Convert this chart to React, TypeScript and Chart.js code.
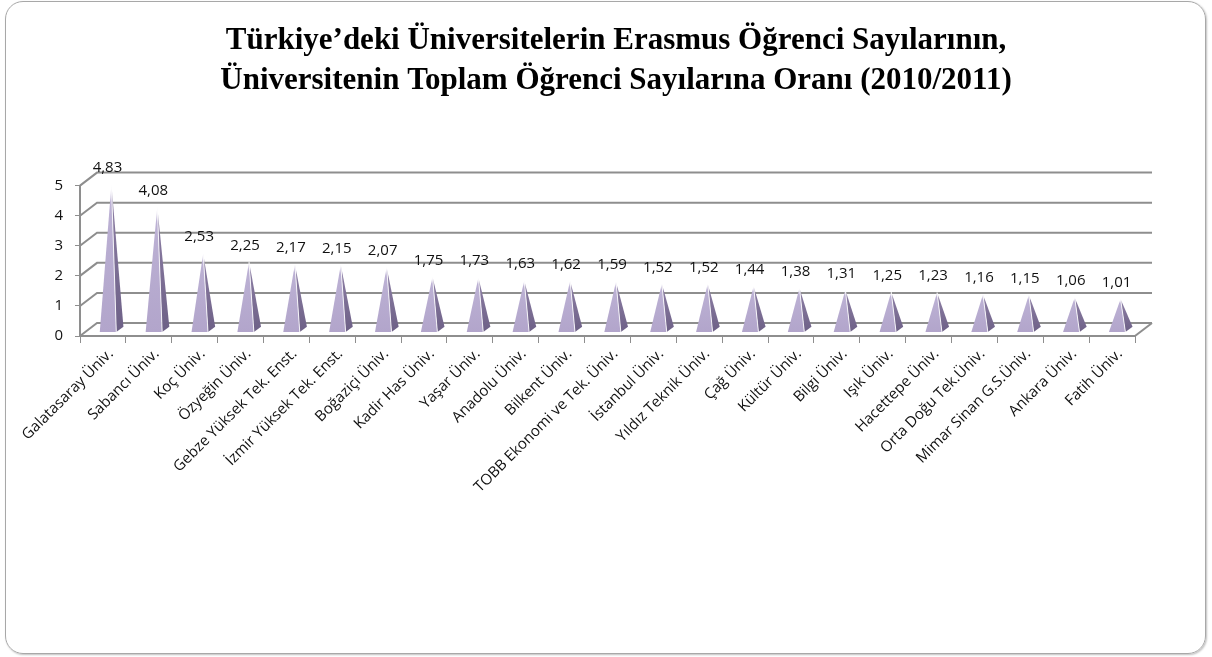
import React, { useEffect, useRef } from "react";
import { Chart, registerables } from "chart.js";

Chart.register(...registerables);

const TITLE_LINES = [
  "Türkiye’deki Üniversitelerin Erasmus Öğrenci Sayılarının,",
  "Üniversitenin Toplam Öğrenci Sayılarına Oranı (2010/2011)",
];

const CATEGORIES = [
  "Galatasaray Üniv.",
  "Sabancı Üniv.",
  "Koç Üniv.",
  "Özyeğin Üniv.",
  "Gebze Yüksek Tek. Enst.",
  "İzmir Yüksek Tek. Enst.",
  "Boğaziçi Üniv.",
  "Kadir Has Üniv.",
  "Yaşar Üniv.",
  "Anadolu Üniv.",
  "Bilkent Üniv.",
  "TOBB Ekonomi ve Tek. Üniv.",
  "İstanbul Üniv.",
  "Yıldız Teknik Üniv.",
  "Çağ Üniv.",
  "Kültür Üniv.",
  "Bilgi Üniv.",
  "Işık Üniv.",
  "Hacettepe Üniv.",
  "Orta Doğu Tek.Üniv.",
  "Mimar Sinan G.S.Üniv.",
  "Ankara Üniv.",
  "Fatih Üniv.",
];

const VALUES = [
  4.83, 4.08, 2.53, 2.25, 2.17, 2.15, 2.07, 1.75, 1.73, 1.63, 1.62, 1.59, 1.52,
  1.52, 1.44, 1.38, 1.31, 1.25, 1.23, 1.16, 1.15, 1.06, 1.01,
];

const Y_TICKS = [0, 1, 2, 3, 4, 5];

// 3D depth offset (pixels) and pyramid depth fractions
const DX = 17;
const DY = -13;
const T1 = 0.3;
const T2 = 0.72;
const GRID = "#8e8e8e";
const LABEL_FONT = '15px "Open Sans"';

const fmt = (v: number) => v.toFixed(2).replace(".", ",");

const pyramidPlugin = {
  id: "pyramid3d",
  beforeDatasetsDraw(chart: any) {
    const { ctx, chartArea, scales } = chart;
    const y = scales.y;
    ctx.save();
    ctx.strokeStyle = GRID;
    ctx.lineWidth = 2;
    for (const v of Y_TICKS) {
      const py = y.getPixelForValue(v);
      ctx.beginPath();
      ctx.moveTo(chartArea.left, py);
      ctx.lineTo(chartArea.left + DX, py + DY);
      ctx.lineTo(chartArea.right + DX, py + DY);
      ctx.stroke();
    }
    ctx.beginPath();
    ctx.moveTo(chartArea.right, chartArea.bottom);
    ctx.lineTo(chartArea.right + DX, chartArea.bottom + DY);
    ctx.stroke();
    ctx.restore();
  },
  afterDatasetsDraw(chart: any) {
    const { ctx, scales } = chart;
    const y = scales.y;
    const base = y.getPixelForValue(0);
    const meta = chart.getDatasetMeta(0);
    ctx.save();
    meta.data.forEach((bar: any, i: number) => {
      const cx = bar.x;
      const w = bar.width / 2;
      const top = bar.y;
      const fl = [cx - w + T1 * DX, base + T1 * DY];
      const fr = [cx + w + T1 * DX, base + T1 * DY];
      const br = [cx + w + T2 * DX, base + T2 * DY];
      const ap = [cx + 0.5 * DX, top + 0.5 * DY];
      // side face
      const gs = ctx.createLinearGradient(0, ap[1], 0, fr[1]);
      gs.addColorStop(0, "#e6e1ee");
      gs.addColorStop(0.15, "#8a7ca2");
      gs.addColorStop(1, "#6d6086");
      ctx.fillStyle = gs;
      ctx.beginPath();
      ctx.moveTo(ap[0], ap[1]);
      ctx.lineTo(fr[0], fr[1]);
      ctx.lineTo(br[0], br[1]);
      ctx.closePath();
      ctx.fill();
      // front face
      const gf = ctx.createLinearGradient(0, ap[1], 0, fl[1]);
      gf.addColorStop(0, "#f4f2f8");
      gf.addColorStop(0.12, "#bcb1d4");
      gf.addColorStop(1, "#b2a5cb");
      ctx.fillStyle = gf;
      ctx.beginPath();
      ctx.moveTo(ap[0], ap[1]);
      ctx.lineTo(fl[0], fl[1]);
      ctx.lineTo(fr[0], fr[1]);
      ctx.closePath();
      ctx.fill();
      // highlight edge
      ctx.strokeStyle = "rgba(255,255,255,0.85)";
      ctx.lineWidth = 1;
      ctx.beginPath();
      ctx.moveTo(ap[0], ap[1]);
      ctx.lineTo(fr[0], fr[1]);
      ctx.stroke();
      // value label
      ctx.fillStyle = "#111111";
      ctx.font = LABEL_FONT;
      ctx.textAlign = "center";
      ctx.textBaseline = "middle";
      ctx.fillText(fmt(VALUES[i]), cx + 4.5, top - 23);
    });
    ctx.restore();
  },
};

export default function App() {
  const ref = useRef<HTMLCanvasElement | null>(null);

  useEffect(() => {
    if (!ref.current) return;
    const chart = new Chart(ref.current, {
      type: "bar",
      data: {
        labels: CATEGORIES,
        datasets: [
          {
            data: VALUES,
            backgroundColor: "rgba(0,0,0,0)",
            borderWidth: 0,
            barPercentage: 0.36,
            categoryPercentage: 1,
            yAxisID: "y",
          },
        ],
      },
      options: {
        responsive: false,
        animation: false,
        devicePixelRatio: 1,
        layout: { padding: { left: 20, right: 0, top: 0, bottom: 21 } },
        plugins: {
          legend: { display: false },
          tooltip: { enabled: false },
          title: {
            display: true,
            text: TITLE_LINES,
            color: "#000000",
            font: { family: '"Liberation Serif"', size: 31, weight: "bold", lineHeight: 1.3 },
            padding: { top: 21, bottom: 84 },
          },
        },
        scales: {
          x: {
            grid: {
              drawOnChartArea: false,
              drawTicks: true,
              tickLength: 7,
              color: GRID,
              offset: true,
            },
            border: { display: true, color: GRID, width: 2 },
            ticks: {
              autoSkip: false,
              maxRotation: 45,
              minRotation: 45,
              color: "#111111",
              font: { family: '"Open Sans"', size: 15 },
              padding: 2,
              labelOffset: 8,
            },
            afterFit: (s: any) => {
              s.height = 300;
            },
          },
          y: {
            min: 0,
            max: 5,
            ticks: {
              stepSize: 1,
              color: "#111111",
              font: { family: '"Open Sans"', size: 15 },
              padding: 12,
            },
            grid: {
              drawOnChartArea: false,
              drawTicks: true,
              tickLength: 5,
              color: GRID,
            },
            border: { display: true, color: GRID, width: 2 },
            afterFit: (s: any) => {
              s.width = 60;
            },
          },
          yRight: {
            position: "right",
            display: true,
            ticks: { display: false },
            grid: { display: false, drawTicks: false },
            border: { display: false },
            afterFit: (s: any) => {
              s.width = 77;
            },
          },
        },
      },
      plugins: [pyramidPlugin],
    });
    return () => chart.destroy();
  }, []);

  return (
    <div style={{ position: "fixed", left: 0, top: 0, width: 1212, height: 657, background: "#ffffff" }}>
      <div
        style={{
          position: "absolute",
          left: 5,
          top: 1,
          width: 1201,
          height: 653,
          boxSizing: "border-box",
          border: "1.5px solid #a8a8a8",
          borderRadius: 18,
          boxShadow: "1px 1px 2px rgba(0,0,0,0.25)",
        }}
      />
      <canvas ref={ref} width={1212} height={657} style={{ position: "absolute", left: 0, top: 0 }} />
    </div>
  );
}
